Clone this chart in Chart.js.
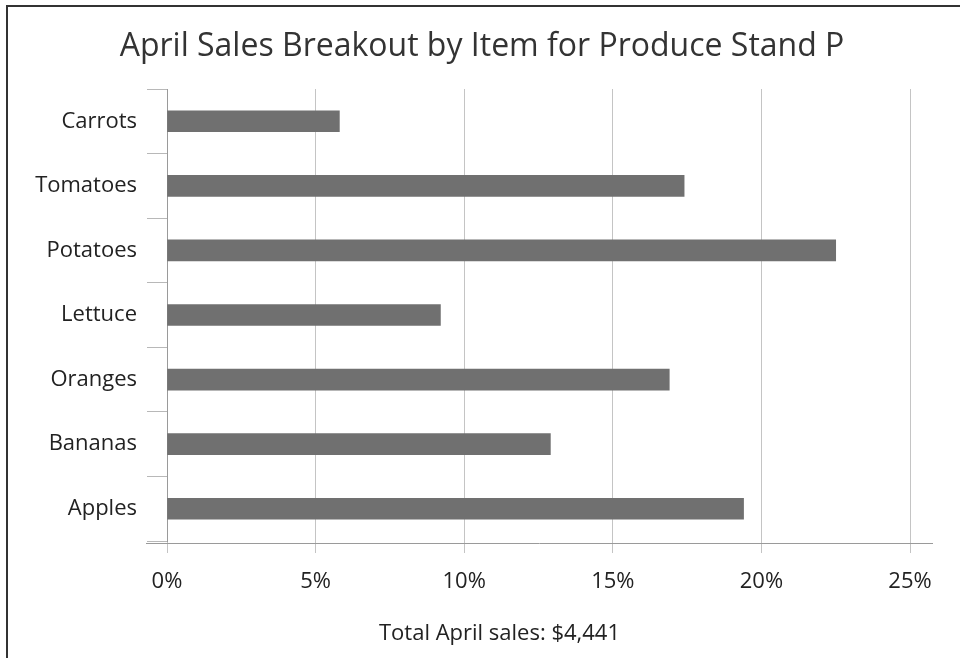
<!DOCTYPE html>
<html>
<head>
<meta charset="utf-8">
<script src="https://cdn.jsdelivr.net/npm/chart.js@4"></script>
<style>
  html, body { margin: 0; padding: 0; background: #fff; }
  #wrap { position: relative; width: 960px; height: 658px; }
  #frame { position: absolute; left: 6px; top: 5px; right: 0; bottom: 0; border-left: 2px solid #333; border-top: 2px solid #333; pointer-events: none; }
  canvas { display: block; }
</style>
</head>
<body>
<div id="wrap">
  <canvas id="c" width="960" height="658"></canvas>
  <div id="frame"></div>
</div>
<script>
const titleText = "April Sales Breakout by Item for Produce Stand P";
const footerText = "Total April sales: $4,441";
const categories = ["Carrots", "Tomatoes", "Potatoes", "Lettuce", "Oranges", "Bananas", "Apples"];
const shares = [5.8, 17.4, 22.5, 9.2, 16.9, 12.9, 19.4];
const xTicks = [0, 5, 10, 15, 20, 25];

const FONT = "'Open Sans', 'Noto Sans', sans-serif";

const extras = {
  id: 'extras',
  afterDraw(chart) {
    const ctx = chart.ctx;
    const a = chart.chartArea;
    ctx.save();
    // extended x axis line
    ctx.strokeStyle = '#9a9a9a';
    ctx.lineWidth = 1;
    ctx.beginPath();
    ctx.moveTo(a.left - 21, a.bottom + 2.5);
    ctx.lineTo(a.right + 23, a.bottom + 2.5);
    ctx.stroke();
    // title
    ctx.fillStyle = '#333';
    ctx.textAlign = 'center';
    ctx.textBaseline = 'middle';
    ctx.font = "32px " + FONT;
    ctx.fillText(titleText, chart.width / 2 + 2, a.top - 42);
    // footer
    ctx.fillStyle = '#222';
    ctx.font = "22px " + FONT;
    ctx.fillText(footerText, (a.left + a.right) / 2 - 39, a.bottom + 93);
    ctx.restore();
  }
};

new Chart(document.getElementById('c'), {
  type: 'bar',
  data: {
    labels: categories,
    datasets: [{
      data: shares,
      backgroundColor: '#707070',
      borderWidth: 0,
      barThickness: 21
    }]
  },
  options: {
    indexAxis: 'y',
    responsive: false,
    animation: false,
    devicePixelRatio: 1,
    layout: { padding: { left: 0, right: 50, top: 89, bottom: 0 } },
    plugins: {
      legend: { display: false },
      tooltip: { enabled: false },
      title: { display: false }
    },
    scales: {
      x: {
        type: 'linear',
        min: 0,
        max: 25,
        afterBuildTicks(scale) { scale.ticks = xTicks.map(v => ({ value: v })); },
        afterFit(scale) { scale.height = 117; },
        border: { display: false },
        grid: {
          color: '#c4c4c4',
          lineWidth: 1,
          tickLength: 12,
          drawTicks: true
        },
        ticks: {
          color: '#222',
          padding: 16,
          font: { family: FONT, size: 22 },
          callback: v => v + '%'
        }
      },
      y: {
        afterFit(scale) { scale.width = 167; },
        border: { display: true, color: '#9a9a9a', width: 1 },
        grid: {
          offset: true,
          drawOnChartArea: false,
          tickLength: 20,
          color: '#b8b8b8'
        },
        ticks: {
          color: '#222',
          padding: 10,
          font: { family: FONT, size: 22 }
        }
      }
    }
  },
  plugins: [extras]
});
</script>
</body>
</html>
